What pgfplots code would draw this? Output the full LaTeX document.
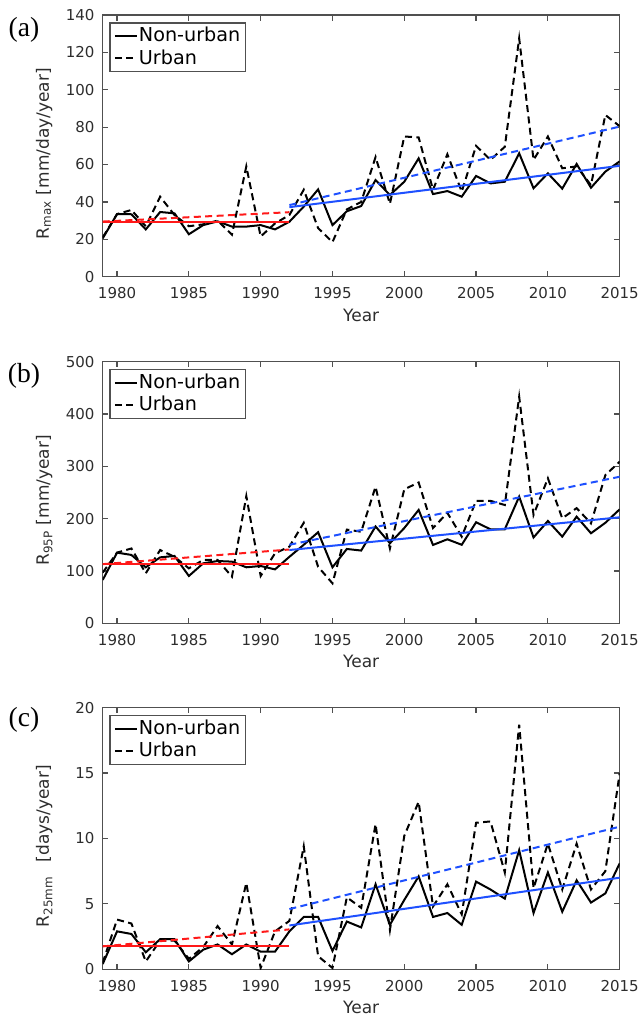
\documentclass[border=0pt]{standalone}
\usepackage{fontspec}
\setmainfont{DejaVu Sans}
\newfontfamily\panelfont{Liberation Serif}
\usepackage{pgfplots}
\usepackage{pgfplotstable}
\pgfplotsset{compat=1.18}

\definecolor{axgray}{RGB}{80,80,80}
\definecolor{txtgray}{RGB}{45,45,45}
\definecolor{trendred}{RGB}{255,25,25}
\definecolor{trendblue}{RGB}{30,80,255}

% year, non-urban, urban
\pgfplotstableread{
year nonurban urban
1979 20.5 21
1980 33.5 33.5
1981 33.4 35.7
1982 25.3 27
1983 34.6 42.8
1984 33.9 33
1985 22.7 27
1986 27.6 28
1987 29.6 30
1988 26.8 22.5
1989 26.8 59
1990 27.6 21.5
1991 25.3 28.5
1992 29.4 33
1993 37.5 46.5
1994 46.7 26
1995 27.6 18.5
1996 35 36
1997 37.8 40
1998 51.7 64
1999 43.7 39
2000 50.8 75
2001 63.3 74.5
2002 44.2 46.5
2003 45.8 65.5
2004 42.8 45.5
2005 53.9 70
2006 49.9 62.5
2007 50.8 69.5
2008 66 127.5
2009 47.3 62.5
2010 55.3 75
2011 47.1 58
2012 60.3 59
2013 47.6 49
2014 56.2 86.5
2015 61.7 80.5
}\rmaxdata

\pgfplotstableread{
year nonurban urban
1979 82.8 96.8
1980 135 135
1981 130.6 143
1982 107 95.5
1983 126 140
1984 128.7 127
1985 90.4 105
1986 114.6 121
1987 119 121
1988 117.8 89
1989 107 243
1990 109.5 90.4
1991 103 133.8
1992 127 146.5
1993 150 192
1994 174 108
1995 107 76.4
1996 142 179
1997 139 175
1998 185 261
1999 153 143
2000 182 256
2001 216.6 269
2002 149.7 182
2003 160.5 211
2004 150 165.6
2005 193 234
2006 179.6 234
2007 179.6 226
2008 242 433
2009 164 207
2010 195.5 277
2011 165.6 200.6
2012 203.8 220
2013 172 191
2014 192 283
2015 217.8 309
}\rninefivedata

\pgfplotstableread{
year nonurban urban
1979 0.4 0.5
1980 2.9 3.8
1981 2.7 3.5
1982 1.3 0.6
1983 2.3 2.2
1984 2.3 2.2
1985 0.6 0.8
1986 1.5 1.7
1987 1.9 3.3
1988 1.15 1.9
1989 1.9 6.6
1990 1.35 0.1
1991 1.35 2.9
1992 2.9 3.7
1993 4.0 9.4
1994 4.0 1.0
1995 1.4 0.1
1996 3.65 5.5
1997 3.2 4.7
1998 6.5 11.1
1999 3.4 3.0
2000 5.3 10.2
2001 7.1 12.8
2002 4.0 4.8
2003 4.3 6.5
2004 3.4 4.2
2005 6.7 11.2
2006 6.1 11.3
2007 5.4 7.4
2008 9.1 18.7
2009 4.3 6.2
2010 7.4 9.6
2011 4.4 6.1
2012 6.8 9.6
2013 5.1 6.1
2014 5.8 7.5
2015 8.1 15.0
}\rtwentyfivedata

\pgfplotsset{
  panel/.style={
    scale only axis, width=258.5pt, height=130.85pt,
    anchor=south west,
    xmin=1979, xmax=2015,
    xtick={1980,1985,...,2015},
    xtick pos=both, ytick pos=both,
    tick align=inside,
    major tick length=2.8pt,
    axis line style={draw=axgray, line width=0.7pt},
    every tick/.style={draw=axgray, line width=0.6pt},
    /pgf/number format/assume math mode=true,
    /pgf/number format/set thousands separator={},
    ticklabel style={font=\fontsize{7.5}{9}\selectfont, text=txtgray},
    xticklabel style={anchor=center, yshift=-8.15pt},
    yticklabel style={anchor=east, xshift=-0.6pt},
    label style={font=\fontsize{8.5}{10}\selectfont, text=txtgray},
    xlabel={Year},
    xlabel style={at={(axis description cs:0.5,-0.1464)}, anchor=center},
    ylabel style={at={(axis description cs:-0.1039,0.47)}, anchor=base},
    legend cell align=left,
    legend image code/.code={\draw[#1] (0pt,0pt) -- (11pt,0pt);},
    legend style={at={(rel axis cs:0.0128,0.972)}, anchor=north west,
      draw=axgray, line width=0.6pt, fill=white,
      font=\fontsize{9.6}{11}\selectfont, text=black,
      inner xsep=2pt, inner ysep=1pt,
      nodes={inner xsep=0.5pt, inner ysep=1.2pt}},
  },
  nonurb/.style={black, line width=1pt, solid},
  urb/.style={black, line width=1pt, dash pattern=on 3.5pt off 2.2pt},
  trsolid/.style={line width=1pt, solid, forget plot},
  trdash/.style={line width=1pt, dash pattern=on 3.5pt off 2.2pt, forget plot},
}

\begin{document}
\begin{tikzpicture}
\useasboundingbox (0,0) rectangle (321.5pt,508.5pt);

% (a)
\begin{axis}[panel, at={(51.35pt,370.15pt)},
  ymin=0, ymax=140, ytick={0,20,...,140},
  ylabel={R\textsubscript{max} [mm/day/year]}]
\addplot[nonurb] table[x=year, y=nonurban] {\rmaxdata};
\addlegendentry{Non-urban}
\addplot[urb] table[x=year, y=urban] {\rmaxdata};
\addlegendentry{Urban}
\addplot[trsolid, trendred] coordinates {(1979,29) (1992,29)};
\addplot[trdash, trendred] coordinates {(1979,29.5) (1992,34.5)};
\addplot[trsolid, trendblue] coordinates {(1992,37.2) (2015,59.3)};
\addplot[trdash, trendblue] coordinates {(1992,38.3) (2015,80.3)};
\end{axis}

% (b)
\begin{axis}[panel, at={(51.35pt,196.85pt)},
  ymin=0, ymax=500, ytick={0,100,...,500},
  ylabel={R\textsubscript{95P} [mm/year]}]
\addplot[nonurb] table[x=year, y=nonurban] {\rninefivedata};
\addlegendentry{Non-urban}
\addplot[urb] table[x=year, y=urban] {\rninefivedata};
\addlegendentry{Urban}
\addplot[trsolid, trendred] coordinates {(1979,113) (1992,113)};
\addplot[trdash, trendred] coordinates {(1979,113) (1992,141)};
\addplot[trsolid, trendblue] coordinates {(1992,140) (2015,202.5)};
\addplot[trdash, trendblue] coordinates {(1992,150) (2015,280)};
\end{axis}

% (c)
\begin{axis}[panel, at={(51.35pt,23.85pt)},
  ymin=0, ymax=20, ytick={0,5,...,20},
  ylabel={R\textsubscript{25mm}\hspace{0.5em} [days/year]}]
\addplot[nonurb] table[x=year, y=nonurban] {\rtwentyfivedata};
\addlegendentry{Non-urban}
\addplot[urb] table[x=year, y=urban] {\rtwentyfivedata};
\addlegendentry{Urban}
\addplot[trsolid, trendred] coordinates {(1979,1.75) (1992,1.75)};
\addplot[trdash, trendred] coordinates {(1979,1.75) (1992,3.05)};
\addplot[trsolid, trendblue] coordinates {(1992,3.35) (2015,7.0)};
\addplot[trdash, trendblue] coordinates {(1992,4.6) (2015,10.9)};
\end{axis}

\node[font=\panelfont\fontsize{13.8}{16}\selectfont] at (12pt,493.5pt) {(a)};
\node[font=\panelfont\fontsize{13.8}{16}\selectfont] at (12pt,320.8pt) {(b)};
\node[font=\panelfont\fontsize{13.8}{16}\selectfont] at (12pt,148.5pt) {(c)};
\end{tikzpicture}
\end{document}
